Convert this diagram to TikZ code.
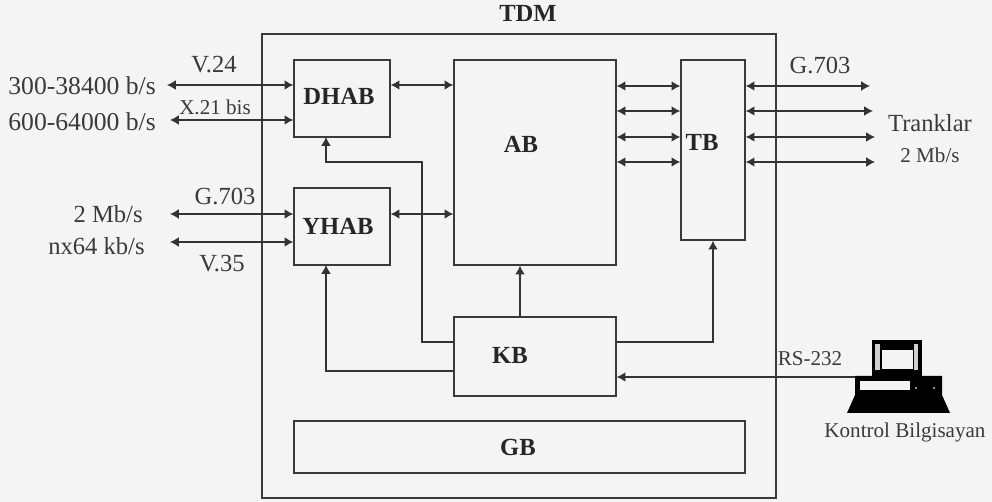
\documentclass[tikz,border=0pt]{standalone}
\usepackage{fontspec}
\setmainfont{Liberation Serif}
\usetikzlibrary{arrows.meta}
\definecolor{paper}{HTML}{F4F4F4}
\definecolor{ink}{HTML}{3A3A3A}
\tikzset{
  block/.style={draw=ink, line width=0.8pt, inner sep=0pt},
  blockname/.style={font=\fontsize{14}{16}\selectfont\bfseries, text=black!85},
  sidetext/.style={font=\fontsize{14}{16}\selectfont, text=ink, inner sep=0pt},
  ratetext/.style={font=\fontsize{14.6}{16}\selectfont, text=ink, inner sep=0pt},
  smalltext/.style={font=\fontsize{12}{14}\selectfont, text=ink, inner sep=0pt},
  both/.style={{Latex[length=5pt,width=5.5pt]}-{Latex[length=5pt,width=5.5pt]}, line width=0.7pt, draw=black!80},
  one/.style={-{Latex[length=5pt,width=5.5pt]}, line width=0.7pt, draw=black!80}
}

\begin{document}
\begin{tikzpicture}[x=0.02cm, y=-0.02cm]
\useasboundingbox (0,0) rectangle (992,502);
\fill[paper] (0,0) rectangle (992,502);
% blocks
\node[block, minimum width=10.28cm, minimum height=9.28cm] (tdm) at (519,266) {};
\node[block, minimum width=1.92cm, minimum height=1.54cm] (dhab) at (342,98.5) {};
\node[block, minimum width=1.92cm, minimum height=1.54cm] (yhab) at (342,226.5) {};
\node[block, minimum width=3.24cm, minimum height=4.1cm] (ab) at (535,162.5) {};
\node[block, minimum width=1.28cm, minimum height=3.6cm] (tb) at (713,150) {};
\node[block, minimum width=3.24cm, minimum height=1.58cm] (kb) at (535,356.5) {};
\node[block, minimum width=9.02cm, minimum height=1.04cm] (gb) at (519.5,447) {};
\node[blockname] (tdmname) at (528,13) {TDM};
\node[blockname] (dhabname) at (339,96) {DHAB};
\node[blockname] (yhabname) at (338,226) {YHAB};
\node[blockname] (abname) at (521,144) {AB};
\node[blockname] (tbname) at (702,142) {TB};
\node[blockname] (kbname) at (510,355) {KB};
\node[blockname] (gbname) at (518,447) {GB};
% rows and free ends
\coordinate (va) at (167,85);
\coordinate (vb) at (170,120);
\coordinate (vc) at (170,214);
\coordinate (vd) at (170,242);
\coordinate (ta) at (870,86);
\coordinate (tb1) at (873,111);
\coordinate (tc) at (875,137);
\coordinate (td) at (875,162);
\coordinate (pc) at (855,377);
% left side
\draw[both] (va) -- (dhab.west |- va);
\draw[both] (vb) -- (dhab.west |- vb);
\draw[both] (vc) -- (yhab.west |- vc);
\draw[both] (vd) -- (yhab.west |- vd);
\draw[both] (dhab.east |- va) -- (ab.west |- va);
\draw[both] (yhab.east |- vc) -- (ab.west |- vc);
% trunks
\draw[both] (ab.east |- ta) -- (tb.west |- ta);
\draw[both] (ab.east |- tb1) -- (tb.west |- tb1);
\draw[both] (ab.east |- tc) -- (tb.west |- tc);
\draw[both] (ab.east |- td) -- (tb.west |- td);
\draw[both] (tb.east |- ta) -- (ta);
\draw[both] (tb.east |- tb1) -- (tb1);
\draw[both] (tb.east |- tc) -- (tc);
\draw[both] (tb.east |- td) -- (td);
% control lines
\draw[one] (kb.west |- 0,342) -- (422,342) -- (422,162) -- (326,162) -- (326,137);
\draw[one] (kb.west |- 0,371) -- (326,371) -- (326,265);
\draw[one] (kb.north -| 520,0) -- (ab.south -| 520,0);
\draw[one] (kb.east |- 0,342) -- (713,342) -- (tb.south);
\draw[one] (pc) -- (kb.east |- pc);
% labels
\node[ratetext, anchor=west] (rateone) at (8,86) {300-38400 b/s};
\node[ratetext, anchor=west] (ratetwo) at (8,122) {600-64000 b/s};
\node[sidetext, anchor=east] (ratethree) at (143,214) {2 Mb/s};
\node[sidetext, anchor=east] (ratefour) at (145,246) {nx64 kb/s};
\node[sidetext] (vtwofour) at (214,65) {V.24};
\node[smalltext] (xbis) at (215,107) {X.21 bis};
\node[sidetext] (gleft) at (225,197) {G.703};
\node[sidetext] (vthree) at (222,264) {V.35};
\node[sidetext] (gright) at (820,66) {G.703};
\node[sidetext] (tranklar) at (930,123) {Tranklar};
\node[smalltext] (trankrate) at (930,155) {2 Mb/s};
\node[smalltext] (rs) at (810,359) {RS-232};
\node[smalltext] (kontrol) at (905,432) {Kontrol Bilgisayan};
% computer
\fill[black] (872,340) rectangle (922,377);
\fill[paper!85!black] (875,344) rectangle (880,370);
\fill[paper!85!black] (914,344) rectangle (918,370);
\fill[paper] (882,350) rectangle (913,369);
\fill[black] (855,376) -- (942,376) -- (942,395) -- (950,413) -- (847,413) -- (855,395) -- cycle;
\fill[paper] (860,381) rectangle (910,390);
\fill[paper!60!black] (915,387) rectangle (916.5,389);
\fill[paper!60!black] (933,387) rectangle (934.5,389);
\end{tikzpicture}
\end{document}
